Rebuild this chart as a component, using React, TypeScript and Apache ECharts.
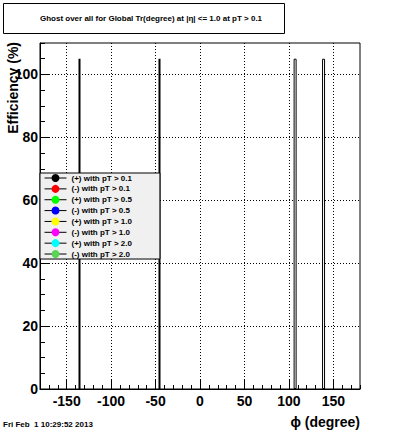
import React, { useEffect, useRef } from "react";
import * as echarts from "echarts";

// Data
const FILLED_PHI = [-135, -45];
const FILLED_EFF = [105, 105];
const HOLLOW_PHI = [107, 139];
const HOLLOW_EFF = [105, 105];

const X_MAJOR = [-150, -100, -50, 0, 50, 100, 150];
const Y_MAJOR = [0, 20, 40, 60, 80, 100];

const LEGEND_NAMES = [
  "(+) with pT > 0.1",
  "(-) with pT > 0.1",
  "(+) with pT > 0.5",
  "(-) with pT > 0.5",
  "(+) with pT > 1.0",
  "(-) with pT > 1.0",
  "(+) with pT > 2.0",
  "(-) with pT > 2.0",
];
const LEGEND_COLORS = [
  "#000000",
  "#ff0000",
  "#00ff00",
  "#0000ff",
  "#ffff00",
  "#ff00ff",
  "#00ffff",
  "#59d454",
];

const TITLE = "Ghost over all for Global Tr(degree) at |η| <= 1.0 at pT > 0.1";
const DATE = "Fri Feb  1 10:29:52 2013";
const X_NAME = "ϕ (degree)";
const Y_NAME = "Efficiency (%)";

const FONT = "'Liberation Sans', Arial, sans-serif";

export default function App() {
  const ref = useRef<HTMLDivElement>(null);
  useEffect(() => {
    if (!ref.current) return;
    const chart = echarts.init(ref.current, null, { renderer: "svg" });
    const gridPos = { left: 40, right: 40, top: 43, bottom: 44 };
    const dotted = { color: "#000", width: 1, type: [1, 2] as any };
    const option: any = {
      animation: false,
      backgroundColor: "#fff",
      grid: [
        { ...gridPos, show: true, borderColor: "#000", borderWidth: 1, backgroundColor: "transparent" },
        { ...gridPos, show: false },
      ],
      xAxis: [
        {
          gridIndex: 0,
          type: "value",
          min: -180,
          max: 180,
          interval: 10,
          axisLine: { show: true, onZero: false, lineStyle: { color: "#000", width: 1 } },
          axisTick: { show: true, inside: true, length: 4, lineStyle: { color: "#000" } },
          axisLabel: { show: false },
          splitLine: { show: false },
        },
        {
          gridIndex: 1,
          type: "value",
          min: -180,
          max: 180,
          axisLine: { show: false, onZero: false },
          axisTick: { show: true, inside: true, length: 9, customValues: X_MAJOR, lineStyle: { color: "#000" } },
          axisLabel: {
            show: true,
            customValues: X_MAJOR,
            margin: 5,
            color: "#000",
            fontSize: 14,
            fontWeight: "bold",
            fontFamily: FONT,
          },
          splitLine: { show: true, lineStyle: dotted },
        },
      ],
      yAxis: [
        {
          gridIndex: 0,
          type: "value",
          min: 0,
          max: 110,
          interval: 5,
          axisLine: { show: true, onZero: false, lineStyle: { color: "#000", width: 1 } },
          axisTick: { show: true, inside: true, length: 5, lineStyle: { color: "#000" } },
          axisLabel: { show: false },
          splitLine: { show: false },
        },
        {
          gridIndex: 1,
          type: "value",
          min: 0,
          max: 110,
          axisLine: { show: false, onZero: false },
          axisTick: { show: true, inside: true, length: 10, customValues: Y_MAJOR, lineStyle: { color: "#000" } },
          axisLabel: {
            show: true,
            customValues: Y_MAJOR,
            margin: 2,
            color: "#000",
            fontSize: 14,
            fontWeight: "bold",
            fontFamily: FONT,
          },
          splitLine: { show: true, lineStyle: dotted },
        },
      ],
      legend: {
        orient: "vertical",
        left: 40,
        top: 173,
        itemWidth: 22,
        itemHeight: 10,
        itemGap: 0.86,
        padding: [0, 28, 0, 4],
        backgroundColor: "#f0f0f0",
        borderColor: "#000",
        borderWidth: 1,
        selectedMode: false,
        lineStyle: { width: 1, color: "#000" },
        textStyle: { fontSize: 8, fontWeight: "bold", fontFamily: FONT, color: "#000", lineHeight: 10 },
        data: LEGEND_NAMES,
      },
      series: [
        {
          type: "bar",
          name: "filled",
          xAxisIndex: 0,
          yAxisIndex: 0,
          barWidth: 2,
          barGap: "-100%",
          itemStyle: { color: "#000" },
          data: FILLED_PHI.map((p, i) => [p, FILLED_EFF[i]]),
        },
        {
          type: "bar",
          name: "hollow",
          xAxisIndex: 0,
          yAxisIndex: 0,
          barWidth: 3,
          barGap: "-100%",
          itemStyle: { color: "#fff", borderColor: "#000", borderWidth: 1 },
          data: HOLLOW_PHI.map((p, i) => [p, HOLLOW_EFF[i]]),
        },
        ...LEGEND_NAMES.map((n, i) => ({
          type: "line",
          name: n,
          xAxisIndex: 0,
          yAxisIndex: 0,
          symbol: "circle",
          symbolSize: 8,
          itemStyle: { color: LEGEND_COLORS[i] },
          lineStyle: { color: "#000", width: 1 },
          data: [],
        })),
      ],
      graphic: [
        {
          type: "rect",
          shape: { x: 3.5, y: 3.5, width: 281, height: 30 },
          style: { fill: "#fff", stroke: "#000", lineWidth: 1 },
        },
        {
          type: "text",
          x: 151,
          y: 18,
          style: {
            text: TITLE,
            fill: "#000",
            font: `bold 8px ${FONT}`,
            textAlign: "center",
            textVerticalAlign: "middle",
          },
        },
        {
          type: "text",
          x: 3,
          y: 424,
          style: {
            text: DATE,
            fill: "#000",
            font: `bold 8px ${FONT}`,
            textAlign: "left",
            textVerticalAlign: "middle",
          },
        },
        {
          type: "text",
          x: 360,
          y: 422,
          style: {
            text: X_NAME,
            fill: "#000",
            font: `bold 14px ${FONT}`,
            textAlign: "right",
            textVerticalAlign: "middle",
          },
        },
        {
          type: "text",
          x: 13,
          y: 42,
          rotation: Math.PI / 2,
          style: {
            text: Y_NAME,
            fill: "#000",
            font: `bold 14px ${FONT}`,
            textAlign: "right",
            textVerticalAlign: "middle",
          },
        },
      ],
    };
    chart.setOption(option);
    return () => chart.dispose();
  }, []);
  return <div ref={ref} style={{ width: 400, height: 433, position: "absolute", left: 0, top: 0 }} />;
}
